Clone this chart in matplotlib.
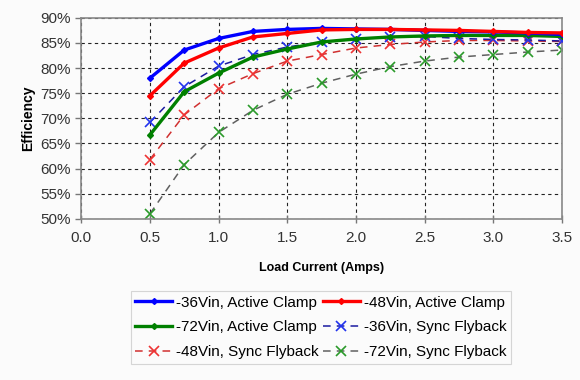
import numpy as np
import matplotlib.pyplot as plt
from matplotlib.ticker import FuncFormatter

# -----------------------------
# Data
# -----------------------------
load_amps = [0.5, 0.75, 1.0, 1.25, 1.5, 1.75, 2.0, 2.25, 2.5, 2.75, 3.0, 3.25, 3.5]

eff_36_ac = [78.0, 83.6, 85.9, 87.3, 87.7, 87.9, 87.8, 87.7, 87.5, 87.3, 87.2, 87.0, 86.7]
eff_48_ac = [74.5, 81.0, 84.0, 86.2, 86.9, 87.6, 87.7, 87.7, 87.6, 87.5, 87.3, 87.1, 87.0]
eff_72_ac = [66.7, 75.3, 79.0, 82.2, 83.8, 85.2, 85.8, 86.2, 86.4, 86.5, 86.5, 86.5, 86.3]
eff_36_sf = [69.2, 76.3, 80.4, 82.7, 84.2, 85.2, 85.8, 86.2, 86.3, 85.9, 85.7, 85.6, 85.4]
eff_48_sf = [61.8, 70.7, 75.9, 78.9, 81.4, 82.7, 84.0, 84.7, 85.2, 85.5, 85.5, 85.4, 85.3]
eff_72_sf = [51.0, 60.8, 67.2, 71.6, 74.8, 77.0, 78.8, 80.3, 81.4, 82.2, 82.7, 83.2, 83.6]

labels = ['-36Vin, Active Clamp', '-48Vin, Active Clamp', '-72Vin, Active Clamp',
          '-36Vin, Sync Flyback', '-48Vin, Sync Flyback', '-72Vin, Sync Flyback']

plt.rcParams['font.family'] = ['Liberation Sans', 'DejaVu Sans']

fig = plt.figure(figsize=(5.8, 3.8), dpi=100, facecolor='#fbfbfb')
ax = fig.add_axes([0.140, 0.424, 0.829, 0.529])
ax.set_facecolor('#fbfbfb')

# active clamp: thick solid with small diamonds
ax.plot(load_amps, eff_36_ac, color='#0000ff', lw=2.4, marker='D', ms=3, label=labels[0], zorder=6)
ax.plot(load_amps, eff_48_ac, color='#ff0000', lw=2.4, marker='D', ms=3, label=labels[1], zorder=7)
ax.plot(load_amps, eff_72_ac, color='#008000', lw=2.4, marker='D', ms=3, label=labels[2], zorder=5)

# sync flyback: thin dashed with x markers
ax.plot(load_amps, eff_36_sf, color='#1a1aa0', ls=(0, (5, 4)), lw=1.1, marker='x', ms=7,
        mec='#2233ee', mew=1.2, label=labels[3], zorder=4)
ax.plot(load_amps, eff_48_sf, color='#d03030', ls=(0, (5, 4)), lw=1.1, marker='x', ms=7,
        mec='#ee3333', mew=1.2, label=labels[4], zorder=3)
ax.plot(load_amps, eff_72_sf, color='#606060', ls=(0, (5, 4)), lw=1.1, marker='x', ms=7,
        mec='#2a9a2a', mew=1.2, label=labels[5], zorder=2)

ax.set_xlim(0, 3.5)
ax.set_ylim(50, 90)
ax.set_xticks(np.arange(0, 3.51, 0.5))
ax.set_yticks(np.arange(50, 90.1, 5))
ax.xaxis.set_major_formatter(FuncFormatter(lambda v, p: f'{v:.1f}'))
ax.yaxis.set_major_formatter(FuncFormatter(lambda v, p: f'{v:.0f}%'))
ax.tick_params(labelsize=11, colors='#333333', length=4, width=1, color='#777777')
ax.tick_params(axis='x', direction='inout', length=6, pad=6)

ax.grid(True, color='#222222', ls=(0, (3, 3)), lw=0.8)
for s in ax.spines.values():
    s.set_color('#888888')
    s.set_linewidth(1.2)

ax.set_xlabel('Load Current (Amps)', fontsize=9, fontweight='bold', labelpad=12)
ax.set_ylabel('Efficiency', fontsize=10, fontweight='bold', labelpad=4)

# legend below, order matches reference (row-wise)
h, l = ax.get_legend_handles_labels()
order = [0, 2, 4, 1, 3, 5]
leg = fig.legend([h[i] for i in order], [l[i] for i in order], ncol=2,
                 loc='upper center', bbox_to_anchor=(0.553, 0.234), bbox_transform=fig.transFigure,
                 fontsize=11, frameon=True, fancybox=False, edgecolor='#cccccc',
                 handlelength=2.4, handletextpad=0.25, columnspacing=0.3,
                 labelspacing=0.7, borderpad=0.3, borderaxespad=0)
leg.get_frame().set_linewidth(0.8)
leg.get_frame().set_facecolor('#fbfbfb')

fig.savefig('out.png', dpi=100, facecolor=fig.get_facecolor())
